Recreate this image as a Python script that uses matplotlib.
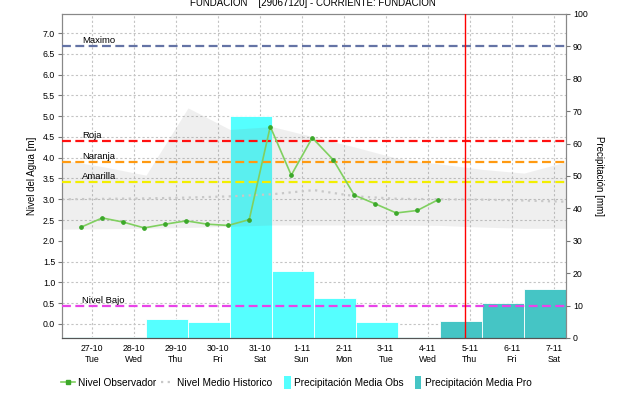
import numpy as np
import pandas as pd
import matplotlib
matplotlib.use("Agg")
import matplotlib.pyplot as plt
from matplotlib.lines import Line2D
from matplotlib.patches import Patch, Rectangle
from matplotlib.legend_handler import HandlerPatch

plt.rcParams["font.family"] = ["Liberation Sans", "DejaVu Sans"]

# --- data ---
obs_start = "2015-10-26 18:00"          # observations every 12 h
nivel_obs = [2.33, 2.55, 2.45, 2.31, 2.40, 2.48, 2.40, 2.37, 2.51,
             4.75, 3.58, 4.48, 3.95, 3.10, 2.89, 2.67, 2.73, 2.99]

day_start = "2015-10-26 07:00"          # daily windows 07:00 -> 07:00
hist_max = [3.95, 3.78, 3.58, 5.20, 4.68, 4.75, 4.50, 4.25, 3.98, 3.85, 3.72, 3.63, 3.90]
hist_min = [2.28, 2.29, 2.30, 2.32, 2.35, 2.38, 2.38, 2.38, 2.38, 2.37, 2.33, 2.30, 2.30]
hist_mean = [3.00, 3.01, 3.02, 3.04, 3.07, 3.12, 3.22, 3.07, 3.01, 3.00, 2.99, 2.97, 2.94]

precip_obs = [0.3, 0.2, 5.9, 4.9, 68.5, 20.8, 12.3, 4.9, 0.2]
precip_pro = [5.3, 10.8, 15.2]

umbral_nombres = ["Maximo", "Roja", "Naranja", "Amarilla", "Nivel Bajo"]
umbral_valores = [6.70, 4.40, 3.90, 3.42, 0.44]
umbral_colores = ["#6473a5", "#ff1010", "#ff9a10", "#f2ee00", "#e844e8"]

tick_dias = ["27-10", "28-10", "29-10", "30-10", "31-10", "1-11",
             "2-11", "3-11", "4-11", "5-11", "6-11", "7-11"]
tick_sem = ["Tue", "Wed", "Thu", "Fri", "Sat", "Sun",
            "Mon", "Tue", "Wed", "Thu", "Fri", "Sat"]
ahora = "2015-11-04 21:20"

titulo = "FUNDACION    [29067120] - CORRIENTE: FUNDACION"

t_obs = pd.date_range(obs_start, periods=len(nivel_obs), freq="12h")
t_day = pd.date_range(day_start, periods=len(hist_max), freq="D")
t_bar_obs = t_day[:len(precip_obs)]
t_bar_pro = t_day[len(precip_obs):len(precip_obs) + len(precip_pro)]
t_ticks = pd.date_range("2015-10-27", periods=len(tick_dias), freq="D")

lvl_lo, lvl_hi = -0.34, 7.46

fig = plt.figure(figsize=(6.2, 4.03), dpi=100)
ax_p = fig.add_axes([0.1, 0.1613, 0.8129, 0.804])
ax_l = ax_p.twinx()

# precipitation (bottom layer)
ax_p.bar(t_bar_obs, precip_obs, width=1.0, align="edge", color="#55ffff",
         edgecolor="white", linewidth=0.6, zorder=2)
ax_p.bar(t_bar_pro, precip_pro, width=1.0, align="edge", color="#45c5c5",
         edgecolor="white", linewidth=0.6, zorder=2)
ax_p.set_ylim(0, 100)
ax_p.set_yticks(np.arange(0, 101, 10))
ax_p.yaxis.tick_right()
ax_p.yaxis.set_label_position("right")
ax_p.set_ylabel("Precipitación [mm]", rotation=270, labelpad=12, fontsize=7)

# grid lives on the precipitation axes so bars hide it
lvl_grid = np.arange(0, 7.01, 0.5)
ax_p.set_yticks((lvl_grid - lvl_lo) / (lvl_hi - lvl_lo) * 100, minor=True)
ax_p.tick_params(axis="y", which="minor", length=0)
ax_p.grid(axis="y", which="minor", color="#c4c4c4", ls=(0, (2, 2)), lw=0.8)
ax_p.grid(axis="x", which="major", color="#c4c4c4", ls=(0, (2, 2)), lw=0.8)
ax_p.set_axisbelow(True)

# water level (top layer)
ax_l.yaxis.tick_left()
ax_l.yaxis.set_label_position("left")
ax_l.fill_between(t_day, hist_min, hist_max, color="#808080", alpha=0.12,
                  lw=0, zorder=1)
ax_l.plot(t_day, hist_mean, color="#c8c8c8", ls=(0, (1, 2)), lw=1.6, zorder=2)
for nom, val, col in zip(umbral_nombres, umbral_valores, umbral_colores):
    ax_l.axhline(val, color=col, ls=(0, (4, 2)), lw=1.6, zorder=3)
    ax_l.annotate(nom, (pd.Timestamp("2015-10-26 18:30"), val),
                  xytext=(0, 0.5), textcoords="offset points",
                  fontsize=6.8, va="bottom", ha="left", zorder=4)
ax_l.plot(t_obs, nivel_obs, color="#80d060", lw=1.2, marker="o", ms=2.4,
          mfc="#3ca82a", mec="#3ca82a", zorder=5)
ax_l.axvline(pd.Timestamp(ahora), color="#ff0000", lw=1.0, zorder=6)
ax_l.set_ylim(lvl_lo, lvl_hi)
ax_l.set_yticks(lvl_grid)
ax_l.set_yticklabels([f"{v:.1f}" for v in lvl_grid])
ax_l.set_ylabel("Nivel del Agua [m]", fontsize=7, labelpad=4)

ax_p.set_xlim(t_day[0], t_day[-1])
ax_p.set_xticks(t_ticks)
ax_p.set_xticklabels([f"{d}\n{s}" for d, s in zip(tick_dias, tick_sem)],
                     fontsize=6.3, linespacing=1.4)

for a in (ax_p, ax_l):
    a.tick_params(axis="y", labelsize=6.3, length=3, color="#777777", pad=2)
    a.tick_params(axis="x", length=0, pad=4)
    for s in ("left", "right", "top"):
        a.spines[s].set_color("#888888")
    a.spines["bottom"].set_color("#555555")
    a.spines["bottom"].set_linestyle((0, (1, 1)))

fig.text(0.505, 0.985, titulo, ha="center", va="baseline", fontsize=7)


def narrow_patch(legend, orig_handle, xdescent, ydescent, width, height, fontsize):
    # small upright swatch sitting next to the label
    return Rectangle((-xdescent + width - 5, -ydescent - 2), 5, height + 4)


handles = [
    Line2D([], [], color="#80d060", lw=1.2, marker="s", ms=2.2,
           mfc="#3ca82a", mec="#3ca82a"),
    Line2D([], [], color="#c8c8c8", ls=(0, (1, 2)), lw=1.6),
    Patch(facecolor="#55ffff"),
    Patch(facecolor="#45c5c5"),
]
labels = ["Nivel Observador", "Nivel Medio Historico",
          "Precipitación Media Obs", "Precipitación Media Pro"]
fig.legend(handles, labels, loc="center", bbox_to_anchor=(0.478, 0.05),
           ncol=4, frameon=False, fontsize=7.3, handlelength=1.3,
           handletextpad=0.3, columnspacing=0.5,
           handler_map={Patch: HandlerPatch(patch_func=narrow_patch)})

fig.savefig("out.png", dpi=100)
